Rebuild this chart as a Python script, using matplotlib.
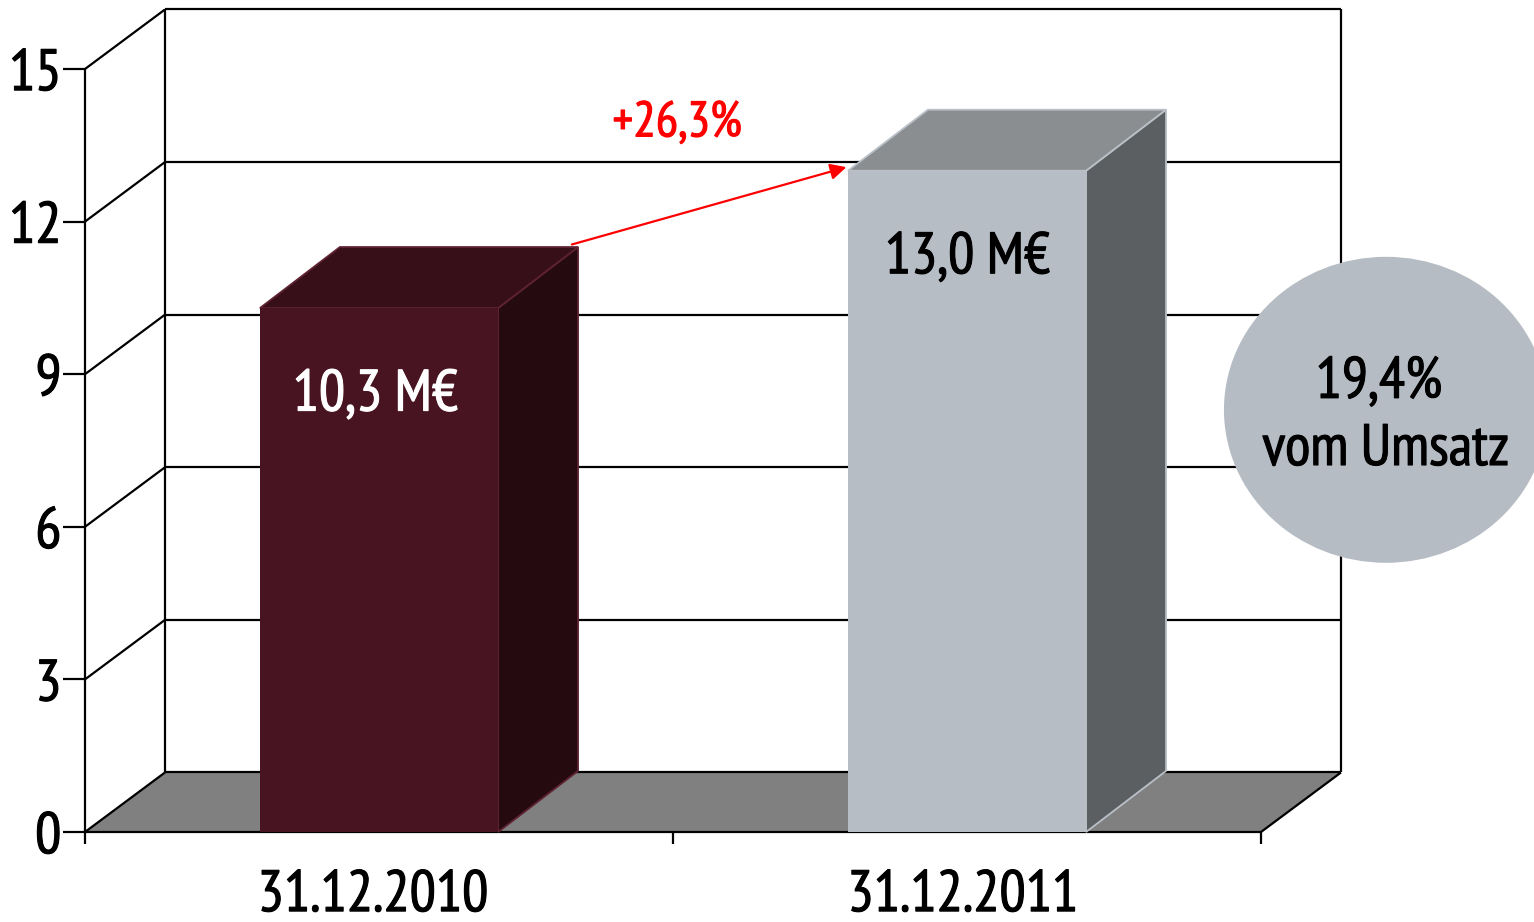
import matplotlib
matplotlib.use('Agg')
import matplotlib.pyplot as plt
import matplotlib.patheffects as pe
from matplotlib.patches import Polygon, Ellipse

plt.rcParams['font.family'] = ['PT Sans Narrow', 'Fira Sans Condensed', 'Liberation Sans', 'DejaVu Sans']

#%% Data
categories = ['31.12.2010', '31.12.2011']
values = [10.3, 13.0]
bar_labels = ['10,3 M€', '13,0 M€']
y_ticks = [0, 3, 6, 9, 12, 15]
change_label = '+26,3%'
bubble_lines = ['19,4%', 'vom Umsatz']

front_colors = ['#481421', '#b6bdc5']
top_colors = ['#370f19', '#8a8e91']
side_colors = ['#250b10', '#5c5f61']
edge_colors = ['#5e2233', '#b9c0c7']
label_colors = ['white', 'black']

# depth of the fake 3D box, in data units
dx = 0.136
dy = 1.17
bar_dy = 1.2
bar_w = 0.405

fig = plt.figure(figsize=(15.34, 9.22), dpi=100)
ax = fig.add_axes([85 / 1534, 90 / 922, 1176 / 1534, 763 / 922])
ax.set_xlim(-0.5, 1.5)
ax.set_ylim(0, 15)
ax.axis('off')


def poly(pts, color, edge='none', lw=0, z=1):
    ax.add_patch(Polygon(pts, closed=True, facecolor=color, edgecolor=edge, lw=lw, zorder=z, clip_on=False))


def line(xs, ys, color='black', lw=1.6, z=2):
    ax.plot(xs, ys, color=color, lw=lw, zorder=z, clip_on=False, solid_capstyle='butt')


def label(x, y, s, size=42, color='black', z=8):
    # the stroke thickens the narrow font up to the weight of the original
    ax.text(x, y, s, ha='center', va='center', fontsize=size, color=color, zorder=z, clip_on=False,
            path_effects=[pe.withStroke(linewidth=0.8, foreground=color)])


x0, x1 = -0.5, 1.5

# floor
poly([(x0, 0), (x1, 0), (x1 + dx, dy), (x0 + dx, dy)], '#808080')

# walls and grid
for t in y_ticks:
    line([x0, x0 + dx], [t, t + dy])
    line([x0 + dx, x1 + dx], [t + dy, t + dy])
    line([x0 - 0.037, x0], [t, t])
line([x0, x0], [0, 15])
line([x0 + dx, x0 + dx], [dy, 15 + dy])
line([x1 + dx, x1 + dx], [dy, 15 + dy])
line([x0, x1], [0, 0])
line([x1, x1 + dx], [0, dy])

# x ticks
for xt in [x0, 0.5, x1]:
    line([xt, xt], [0, -0.24])

# y tick labels
for t in y_ticks:
    ax.text(x0 - 0.04, t - 0.13, str(t), ha='right', va='center', fontsize=42, color='black',
            path_effects=[pe.withStroke(linewidth=0.8, foreground='black')])

# bars
for i, v in enumerate(values):
    l = i - bar_w / 2
    r = i + bar_w / 2
    poly([(r, 0), (r + dx, bar_dy), (r + dx, v + bar_dy), (r, v)], side_colors[i], edge_colors[i], 1.3, 3)
    poly([(l, v), (r, v), (r + dx, v + bar_dy), (l + dx, v + bar_dy)], top_colors[i], edge_colors[i], 1.3, 3)
    poly([(l, 0), (r, 0), (r, v), (l, v)], front_colors[i], 'none', 0, 4)

# labels
label_x = [-0.006, 1.001]
for i, v in enumerate(values):
    label(label_x[i], v - 1.73, bar_labels[i], color=label_colors[i], z=5)
    label(i - 0.01 + 0.003 * i, -1.27, categories[i])

# arrow between the bars
ax.annotate('', xy=(0.795, 13.07), xytext=(0.328, values[0] + bar_dy + 0.05),
            arrowprops=dict(arrowstyle='-|>', color='#ff0000', lw=1.6, mutation_scale=24, shrinkA=0, shrinkB=0),
            zorder=6, annotation_clip=False)
label(0.507, 13.93, change_label, size=36, color='#ff0000', z=6)

# bubble
ax.add_patch(Ellipse((1.7125, 8.3), 324 / 588, 306 / 50.87, facecolor='#b6bcc4', edgecolor='none', zorder=7, clip_on=False))
label(1.7005, 8.82, bubble_lines[0])
label(1.7125, 7.5, bubble_lines[1])

fig.savefig('out.png', dpi=100)
